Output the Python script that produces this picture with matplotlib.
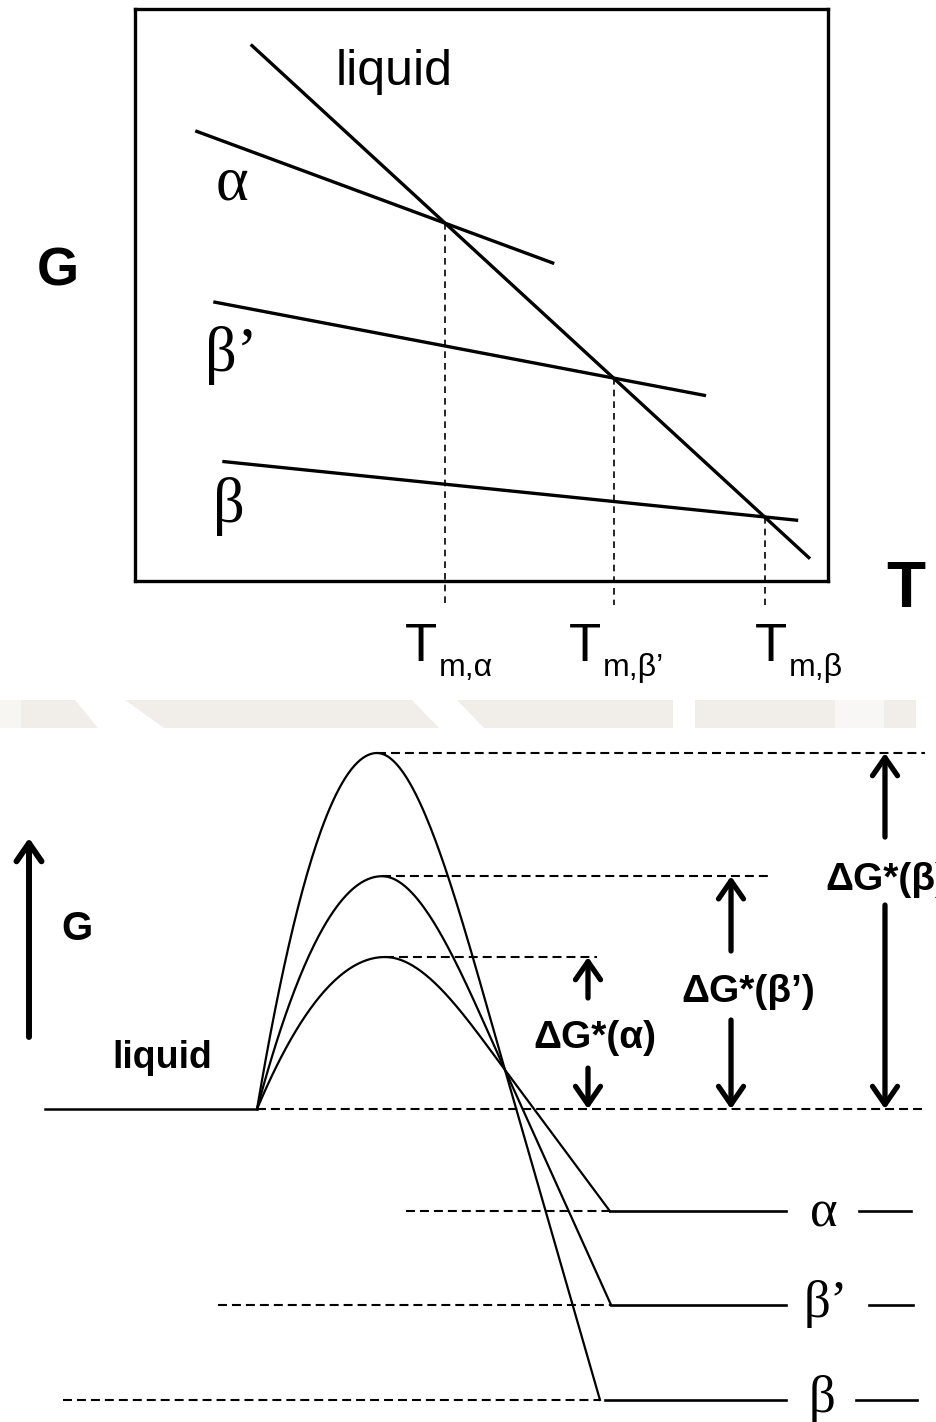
import numpy as np
import matplotlib
matplotlib.use("Agg")
import matplotlib.pyplot as plt
import matplotlib.transforms as mtransforms
from matplotlib.patches import FancyArrowPatch, Polygon, Rectangle

W, H = 936, 1422

# ---------------- upper panel: G(T) lines (arbitrary units, 0..100) ----------------
phases_top = ["liquid", "α", "β’", "β"]
line_T_start = [16.7, 8.7, 11.3, 12.6]
line_T_end = [97.4, 60.5, 82.4, 95.7]
line_G_start = [93.8, 78.7, 48.8, 20.9]
line_G_end = [3.9, 55.5, 32.4, 10.6]
melt_subscripts = ["m,α", "m,β’", "m,β"]

# ---------------- lower panel: nucleation barriers (G relative to liquid) ----------------
polymorphs = ["α", "β’", "β"]
barrier_G = [4.27, 6.54, 10.0]      # ΔG* of each polymorph
solid_G = [-2.87, -5.5, -8.17]      # G of the crystalline polymorph
cross_G = 1.1                       # common crossing of the three profiles
delta_labels = ["ΔG*(α)", "ΔG*(β’)", "ΔG*(β)"]

SANS = ["Liberation Sans", "DejaVu Sans"]
NARROW = ["Liberation Sans Narrow", "Liberation Sans", "DejaVu Sans"]
SERIF = ["Liberation Serif", "DejaVu Serif"]

fig = plt.figure(figsize=(W / 100, H / 100), dpi=100)
fig.patch.set_facecolor("white")

# pixel-space transform (origin top-left) for free-standing labels
px = mtransforms.Affine2D().scale(1, -1).translate(0, H)

# faint background band between the two panels
band_col = "#f1ede8"
fig.add_artist(Rectangle((0, 700), 916, 28, transform=px, facecolor=band_col,
                         edgecolor="none", zorder=-5))
fig.add_artist(Rectangle((0, 700), 21, 28, transform=px, facecolor="#f8f6f3",
                         edgecolor="none", zorder=-4))
for poly in ([(75, 700), (125, 700), (164, 728), (98, 728)],
             [(412, 700), (457, 700), (484, 728), (439, 728)],
             [(673, 700), (695, 700), (695, 728), (673, 728)]):
    fig.add_artist(Polygon(poly, closed=True, transform=px, facecolor="white",
                           edgecolor="none", zorder=-4))
fig.add_artist(Rectangle((835, 700), 49, 28, transform=px, facecolor="#f9f7f5",
                         edgecolor="none", zorder=-4))

# ======================= upper panel =======================
ax1 = fig.add_axes([135 / W, (H - 581) / H, 693 / W, 572 / H])
ax1.set_xlim(0, 100)
ax1.set_ylim(0, 100)
ax1.set_xticks([])
ax1.set_yticks([])
for sp in ax1.spines.values():
    sp.set_linewidth(2.4)

for t0, t1, g0, g1 in zip(line_T_start, line_T_end, line_G_start, line_G_end):
    ax1.plot([t0, t1], [g0, g1], color="black", lw=2.4, solid_capstyle="butt")

# melting points = intersections of each solid line with the liquid line
def slope_icpt(i):
    b = (line_G_end[i] - line_G_start[i]) / (line_T_end[i] - line_T_start[i])
    a = line_G_start[i] - b * line_T_start[i]
    return a, b

a0, b0 = slope_icpt(0)
melt_T, melt_G = [], []
for i in range(1, 4):
    ai, bi = slope_icpt(i)
    tm = (ai - a0) / (b0 - bi)
    melt_T.append(tm)
    melt_G.append(a0 + b0 * tm)

for tm, gm in zip(melt_T, melt_G):
    ax1.plot([tm, tm], [gm, -4.2], color="black", lw=1.2,
             linestyle=(0, (4, 3)), clip_on=False)

# phase labels
ax1.text(394, 85, "liquid", transform=px, ha="center", va="baseline",
         fontsize=36, family=SANS)
for lab, (x, y) in zip(phases_top[1:], [(232, 200), (231, 371), (229, 522)]):
    ax1.text(x, y, lab, transform=px, ha="center", va="baseline",
             fontsize=45, family=SERIF)

ax1.text(58, 272, "G", transform=px, ha="center", va="center",
         fontsize=39, fontweight="bold", family=SANS)
ax1.text(906, 590, "T", transform=px, ha="center", va="center",
         fontsize=46, fontweight="bold", family=SANS)

# melting-temperature labels
label_left = [-40, -45, -10]
for tm, off, sub in zip(melt_T, label_left, melt_subscripts):
    xpx = 135 + tm * 6.93 + off
    ax1.text(xpx, 661, "T", transform=px, ha="left", va="baseline",
             fontsize=38, family=NARROW)
    ax1.text(xpx + 34, 676, sub, transform=px, ha="left", va="baseline",
             fontsize=23, family=NARROW)

# ======================= lower panel =======================
ax2 = fig.add_axes([0, 0, 1, 732 / H])
ax2.set_xlim(0, 100)
ax2.set_ylim(-8.79, 11.77)
ax2.axis("off")
ax2.patch.set_visible(False)

x_start = 27.46
x_peak = [41.13, 40.81, 40.28]
x_cross = 53.95
x_end = [65.17, 65.28, 64.10]
x_solid_start = [65.17, 65.28, 64.64]
x_solid_end = 83.97
x_dash_start = [43.38, 23.29, 6.73]
x_peak_dash_end = [63.78, 82.05, 98.82]
x_short = [(91.77, 97.33), (92.84, 97.54), (91.45, 97.97)]
x_label = [88.03, 88.25, 87.82]
label_dy = [-15, -12, -12]        # baseline offset (px) below each level


def hermite(x0, x1, y0, y1, m0, m1, n=80):
    t = np.linspace(0, 1, n)
    h = x1 - x0
    y = ((2 * t**3 - 3 * t**2 + 1) * y0 + (t**3 - 2 * t**2 + t) * h * m0
         + (-2 * t**3 + 3 * t**2) * y1 + (t**3 - t**2) * h * m1)
    return x0 + t * h, y


dash = (0, (4.3, 2.4))
lw_dash = 1.5

# liquid reference level
ax2.plot([4.81, x_start], [0, 0], color="black", lw=1.8)
ax2.plot([x_start, 98.82], [0, 0], color="black", lw=lw_dash, linestyle=dash)

for i in range(3):
    Hb, Gs, xp, xe = barrier_G[i], solid_G[i], x_peak[i], x_end[i]
    m0 = 2 * Hb / (xp - x_start)
    mt = (Gs - cross_G) / (xe - x_cross)
    xa, ya = hermite(x_start, xp, 0.0, Hb, m0, 0.0)
    xb, yb = hermite(xp, x_cross, Hb, cross_G, 0.0, mt)
    xs = np.concatenate([xa, xb[1:], [xe]])
    ys = np.concatenate([ya, yb[1:], [Gs]])
    ax2.plot(xs, ys, color="black", lw=1.6)

    # barrier top reference
    ax2.plot([xp, x_peak_dash_end[i]], [Hb, Hb], color="black", lw=lw_dash,
             linestyle=dash)
    # crystal level
    ax2.plot([x_dash_start[i], xe], [Gs, Gs], color="black", lw=lw_dash,
             linestyle=dash)
    ax2.plot([x_solid_start[i], x_solid_end], [Gs, Gs], color="black", lw=1.9)
    ax2.plot(list(x_short[i]), [Gs, Gs], color="black", lw=1.9)
    ax2.annotate(polymorphs[i], (x_label[i], Gs), xytext=(0, label_dy[i] * 0.72),
                 textcoords="offset points", ha="center", va="baseline",
                 fontsize=38, family=SERIF)

# ΔG* arrows
arrow_x = [62.82, 78.10, 94.55]
up_from = [3.12, 4.44, 7.64]
down_from = [1.15, 2.50, 5.73]
text_pos = [(63.57, 1.99, "center"), (79.9, 3.29, "center"), (88.14, 6.43, "left")]
astyle = "->,head_length=0.65,head_width=0.45"
for i in range(3):
    for y0, y1 in ((up_from[i], barrier_G[i]), (down_from[i], 0.0)):
        ax2.add_patch(FancyArrowPatch((arrow_x[i], y0), (arrow_x[i], y1),
                                      arrowstyle=astyle, mutation_scale=20,
                                      lw=3.8, color="black", shrinkA=0,
                                      shrinkB=0, clip_on=False))
    tx, ty, ha = text_pos[i]
    ax2.text(tx, ty, delta_labels[i], ha=ha, va="center", fontsize=28,
             fontweight="bold", family=SANS)

# G axis arrow and labels on the left
fig.add_artist(FancyArrowPatch((29, 1037), (29, 838), transform=px,
                               arrowstyle=astyle, mutation_scale=20, lw=4.3,
                               color="black", shrinkA=0, shrinkB=0))
fig.text(77, 929, "G", transform=px, ha="center", va="center", fontsize=29,
         fontweight="bold", family=SANS)
fig.text(162, 1068, "liquid", transform=px, ha="center", va="baseline",
         fontsize=27, fontweight="bold", family=SANS)

fig.savefig("out.png", dpi=100, facecolor="white")
